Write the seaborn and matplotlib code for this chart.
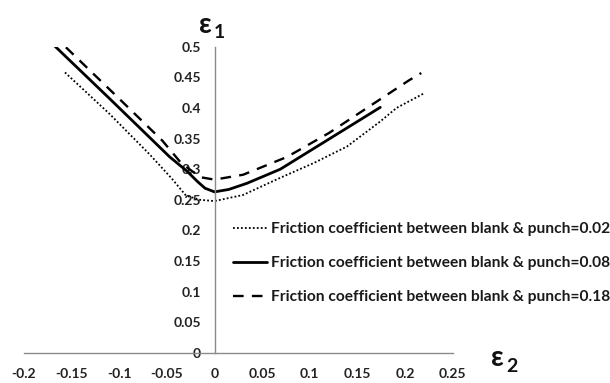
import numpy as np
import pandas as pd
import matplotlib
matplotlib.use("Agg")
import matplotlib.pyplot as plt
import seaborn as sns

# Forming limit curves: major strain (eps1) vs minor strain (eps2)
mu_labels = [
    "Friction coefficient between blank & punch=0.02",
    "Friction coefficient between blank & punch=0.08",
    "Friction coefficient between blank & punch=0.18",
]

eps2_mu002 = [-0.157, -0.11, -0.068, -0.045, -0.030, -0.015, 0.0, 0.03, 0.069, 0.104, 0.139, 0.174, 0.191, 0.220]
eps1_mu002 = [0.458, 0.390, 0.324, 0.285, 0.257, 0.250, 0.248, 0.258, 0.286, 0.310, 0.337, 0.378, 0.400, 0.424]

eps2_mu008 = [-0.169, -0.11, -0.047, -0.029, -0.018, -0.010, 0.0, 0.015, 0.034, 0.069, 0.121, 0.174]
eps1_mu008 = [0.503, 0.415, 0.320, 0.297, 0.280, 0.269, 0.263, 0.267, 0.277, 0.300, 0.350, 0.401]

eps2_mu018 = [-0.156, -0.10, -0.055, -0.035, -0.015, 0.0, 0.03, 0.076, 0.120, 0.162, 0.204, 0.217]
eps1_mu018 = [0.499, 0.415, 0.347, 0.310, 0.287, 0.283, 0.291, 0.320, 0.359, 0.402, 0.445, 0.457]

x_ticks = [-0.2, -0.15, -0.1, -0.05, 0, 0.05, 0.1, 0.15, 0.2, 0.25]
y_ticks = [0, 0.05, 0.1, 0.15, 0.2, 0.25, 0.3, 0.35, 0.4, 0.45, 0.5]

sns.set_style("white")
plt.rcParams["font.family"] = ["Lato", "DejaVu Sans"]
plt.rcParams["font.weight"] = "bold"

W, H = 610, 383
fig = plt.figure(figsize=(W / 100, H / 100), dpi=100)
ax = fig.add_axes([24 / W, 1 - 353 / H, (452.7 - 24) / W, (353 - 46.7) / H])

styles = [
    dict(linestyle=(0, (1, 1.2)), linewidth=1.3),
    dict(linestyle="-", linewidth=2.0),
    dict(linestyle=(0, (4.5, 3.5)), linewidth=1.7),
]
series = [(eps2_mu002, eps1_mu002), (eps2_mu008, eps1_mu008), (eps2_mu018, eps1_mu018)]
for (xs, ys), lab, st in zip(series, mu_labels, styles):
    df = pd.DataFrame({"eps2": xs, "eps1": ys})
    sns.lineplot(data=df, x="eps2", y="eps1", ax=ax, color="black", label=lab,
                 estimator=None, sort=False, **st)

ax.set_xlim(-0.2, 0.25)
ax.set_ylim(0, 0.5)
ax.set_xticks(x_ticks)
ax.set_yticks(y_ticks)
ax.set_xticklabels([f"{v:g}" for v in x_ticks])
ax.set_yticklabels([f"{v:g}" for v in y_ticks])
ax.set_xlabel("")
ax.set_ylabel("")

axis_gray = "#8a8a8a"
for side in ["top", "right"]:
    ax.spines[side].set_visible(False)
ax.spines["left"].set_position(("data", 0))
ax.spines["bottom"].set_position(("data", 0))
for side in ["left", "bottom"]:
    ax.spines[side].set_color(axis_gray)
    ax.spines[side].set_linewidth(1.0)

ax.tick_params(axis="both", colors=axis_gray, labelcolor="#222222", labelsize=10,
               length=4, width=1.0)
ax.tick_params(axis="x", direction="in", pad=11)
ax.tick_params(axis="y", direction="out", pad=6)
for t in ax.get_xticklabels() + ax.get_yticklabels():
    t.set_fontweight("bold")
ax.patch.set_alpha(0)

leg = ax.legend(loc="upper left", bbox_to_anchor=(233 / W, 1 - 222 / H),
                bbox_transform=fig.transFigure, frameon=False,
                handlelength=2.2, handletextpad=0.25, labelspacing=1.3,
                borderpad=0, borderaxespad=0,
                prop={"family": ["Lato", "DejaVu Sans"], "weight": "bold", "size": 11.2})
for t in leg.get_texts():
    t.set_color("#1a1a1a")

# Axis titles drawn as epsilon with subscripts
fig.text(199 / W, 1 - 25 / H, "ε", fontsize=20, fontweight="bold", color="#111111",
         ha="left", va="center")
fig.text(214 / W, 1 - 33 / H, "1", fontsize=14, fontweight="bold", color="#111111",
         ha="left", va="center")
fig.text(491 / W, 1 - 358 / H, "ε", fontsize=20, fontweight="bold", color="#111111",
         ha="left", va="center")
fig.text(506 / W, 1 - 366 / H, "2", fontsize=14, fontweight="bold", color="#111111",
         ha="left", va="center")

fig.savefig("out.png", dpi=100)
